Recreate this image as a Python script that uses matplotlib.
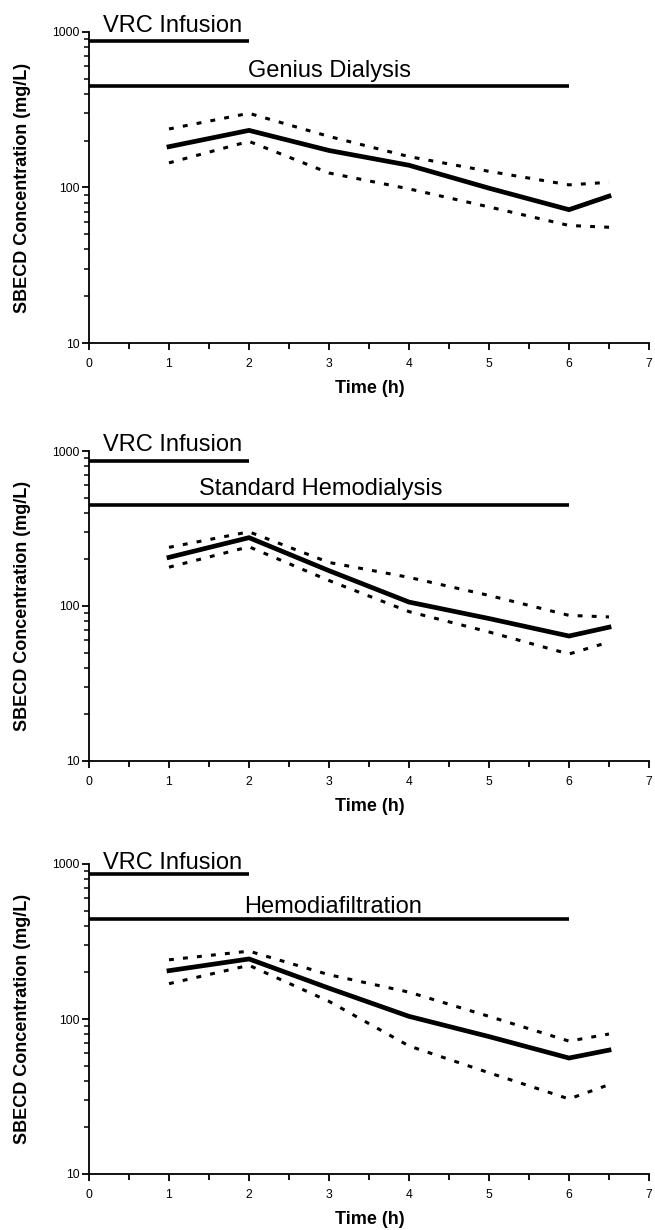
import matplotlib
matplotlib.use("Agg")
import matplotlib.pyplot as plt
from matplotlib.ticker import LogLocator, NullFormatter, FixedLocator

plt.rcParams['font.family'] = ['Liberation Sans', 'DejaVu Sans']

# ---- data ----
time_h = [1, 2, 3, 4, 5, 6, 6.5]

panel_titles = ["Genius Dialysis", "Standard Hemodialysis", "Hemodiafiltration"]
infusion_label = "VRC Infusion"
infusion_span = [0, 2]
dialysis_span = [0, 6]
infusion_level = [870, 867, 866]
dialysis_level = [447, 448, 442]

mean_genius = [183, 233, 173, 139, 99, 72, 88]
upper_genius = [238, 300, 213, 158, 127, 104, 108]
lower_genius = [144, 198, 124, 98, 75, 57, 55.5]

mean_std = [206, 276, 169, 106, 83, 64, 73]
upper_std = [239, 301, 191, 153, 117, 87, 85]
lower_std = [178, 241, 146, 92, 68, 49, 58.5]

mean_hdf = [205, 244, 158, 104, 77, 56, 63]
upper_hdf = [241, 274, 193, 149, 104, 72, 80]
lower_hdf = [169, 222, 130, 67, 45, 30.5, 37.7]

means = [mean_genius, mean_std, mean_hdf]
uppers = [upper_genius, upper_std, upper_hdf]
lowers = [lower_genius, lower_std, lower_hdf]

x_ticks = [0, 1, 2, 3, 4, 5, 6, 7]
x_label = "Time (h)"
y_label = "SBECD Concentration (mg/L)"

# ---- layout ----
W, H = 655, 1230
fig = plt.figure(figsize=(W / 100, H / 100), dpi=100)

left_px, right_px = 89, 649
panels_px = [(32, 343), (451, 761), (864, 1174)]
title_y = [514, 521, 483]
title_x = [3.0, 2.9, 3.05]
vrc_y = [1000, 1000, 930]

for i, (top, bot) in enumerate(panels_px):
    h_px = bot - top
    ax = fig.add_axes([left_px / W, 1 - bot / H, (right_px - left_px) / W, h_px / H])
    ax.set_yscale('log')
    ax.set_xlim(0, 7)
    ax.set_ylim(10, 1000)

    # dialysis & infusion bars
    ax.plot(infusion_span, [infusion_level[i]] * 2, color='black', lw=2.6,
            solid_capstyle='butt', clip_on=False)
    ax.plot(dialysis_span, [dialysis_level[i]] * 2, color='black', lw=2.6,
            solid_capstyle='butt', clip_on=False)
    ax.text(1.04, vrc_y[i], infusion_label, ha='center', va='baseline',
            fontsize=17, clip_on=False)
    ax.text(title_x[i], title_y[i], panel_titles[i], ha='center', va='baseline',
            fontsize=17)

    ax.plot(time_h, means[i], color='black', lw=3.4, solid_joinstyle='miter')
    ax.plot(time_h, uppers[i], color='black', lw=2.2, linestyle=(0, (1.6, 3.0)),
            dash_capstyle='butt')
    ax.plot(time_h, lowers[i], color='black', lw=2.2, linestyle=(0, (1.6, 3.0)),
            dash_capstyle='butt')

    for s in ['top', 'right']:
        ax.spines[s].set_visible(False)
    for s in ['left', 'bottom']:
        ax.spines[s].set_linewidth(1.3)

    ax.xaxis.set_major_locator(FixedLocator(x_ticks))
    ax.xaxis.set_minor_locator(FixedLocator([0.5 + k for k in range(7)]))
    ax.set_xticklabels([str(t) for t in x_ticks])
    ax.yaxis.set_major_locator(FixedLocator([10, 100, 1000]))
    ax.set_yticklabels(['10', '100', '1000'])
    ax.yaxis.set_minor_locator(LogLocator(base=10, subs=range(2, 10)))
    ax.yaxis.set_minor_formatter(NullFormatter())

    ax.tick_params(axis='both', which='major', direction='out', length=5, width=1.3,
                   labelsize=8.8)
    ax.tick_params(axis='x', which='minor', direction='out', length=4, width=1.3)
    ax.tick_params(axis='y', which='minor', direction='out', length=3.5, width=1.1)
    ax.tick_params(axis='x', which='major', pad=6)
    ax.tick_params(axis='y', which='major', pad=1.5)

    ax.set_xlabel(x_label, fontsize=13, fontweight='bold')
    ax.set_ylabel(y_label, fontsize=13, fontweight='bold')
    ax.xaxis.set_label_coords(0.502, -37 / h_px)
    ax.yaxis.set_label_coords(-(89 - 31) / 560.0, 0.5)

fig.savefig("out.png", dpi=100)
